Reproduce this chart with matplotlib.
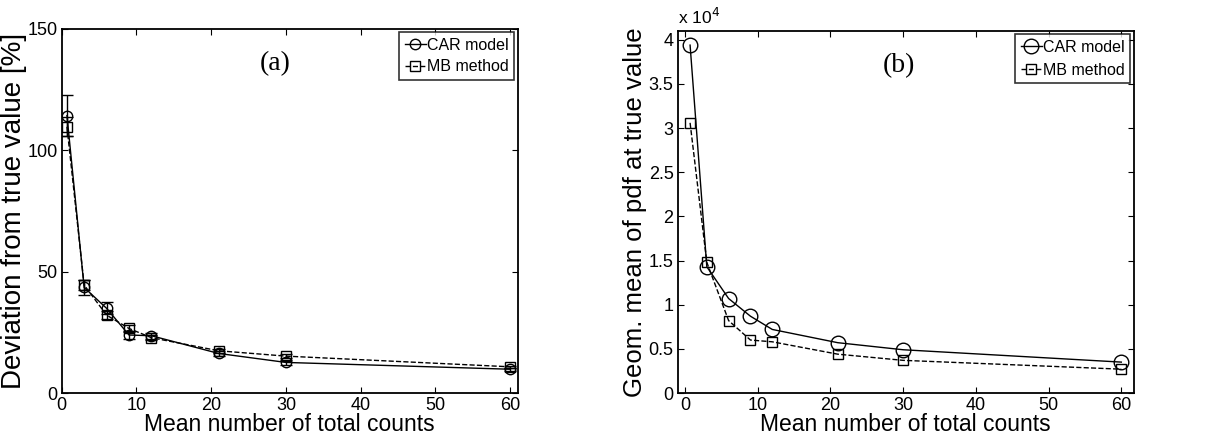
import numpy as np
import matplotlib
matplotlib.use("Agg")
from matplotlib import pyplot as plt

plt.rcParams["font.family"] = ["Liberation Sans", "DejaVu Sans"]

# mean number of total counts
counts = [0.7, 3, 6, 9, 12, 21, 30, 60]

# (a) deviation from true value [%]
dev_car = [114.3, 43.5, 34.9, 23.9, 23.6, 16.3, 12.6, 9.8]
dev_car_err = [8.3, 3.0, 2.5, 1.5, 1.2, 1.0, 0.9, 0.7]
dev_mb = [109.7, 44.5, 32.1, 26.6, 22.8, 17.4, 15.2, 10.8]
dev_mb_err = [4.0, 2.0, 1.8, 1.3, 1.0, 0.8, 0.7, 0.5]

# (b) geometric mean of pdf at true value
pdf_car = [39400, 14300, 10700, 8700, 7200, 5700, 4900, 3500]
pdf_mb = [30600, 14800, 8200, 6000, 5800, 4400, 3700, 2700]

serif = ["Liberation Serif", "DejaVu Serif"]


def style_axes(ax):
    ax.tick_params(direction="in", top=True, right=True, labelsize=13,
                   length=4, width=0.8, pad=3)
    for sp in ax.spines.values():
        sp.set_linewidth(1.3)
    ax.set_xlabel("Mean number of total counts", fontsize=16.5, labelpad=-1)


def add_legend(ax, handles, spacing):
    leg = ax.legend(handles, ["CAR model", "MB method"], loc="upper right",
                    fontsize=11.5, frameon=True, fancybox=False,
                    borderaxespad=0.2, handlelength=1.3, handletextpad=0.1,
                    borderpad=0.35, labelspacing=spacing)
    leg.get_frame().set_edgecolor("black")
    leg.get_frame().set_linewidth(1.2)


fig = plt.figure(figsize=(12.32, 4.46), dpi=100)
ax1 = fig.add_axes([0.0501, 0.1188, 0.3701, 0.8162])
ax2 = fig.add_axes([0.5501, 0.1188, 0.3701, 0.8117])

# panel (a)
eb1 = ax1.errorbar(counts, dev_car, yerr=dev_car_err, color="black", lw=1.0,
                   marker="o", ms=7.5, mfc="none", mew=1.0, capsize=4,
                   elinewidth=1.0)
eb2 = ax1.errorbar(counts, dev_mb, yerr=dev_mb_err, color="black", lw=1.0,
                   ls="--", marker="s", ms=6.5, mfc="none", mew=1.0,
                   capsize=4, elinewidth=1.0)
ax1.set_xlim(0, 61)
ax1.set_ylim(0, 150)
ax1.set_xticks(np.arange(0, 61, 10))
ax1.set_yticks([0, 50, 100, 150])
ax1.set_ylabel("Deviation from true value [%]", fontsize=20, labelpad=0)
ax1.text(0.468, 0.905, "(a)", transform=ax1.transAxes, ha="center",
         va="center", fontsize=20, family=serif)
style_axes(ax1)
add_legend(ax1, [eb1[0], eb2[0]], 0.4)

# panel (b)
l1, = ax2.plot(counts, np.array(pdf_car) / 1e4, color="black", lw=1.0,
               marker="o", ms=10.5, mfc="none", mew=1.0)
l2, = ax2.plot(counts, np.array(pdf_mb) / 1e4, color="black", lw=1.0,
               ls="--", marker="s", ms=7.5, mfc="none", mew=1.0)
ax2.set_xlim(-1, 61.7)
ax2.set_ylim(0, 4.1)
ax2.set_xticks(np.arange(0, 61, 10))
ax2.set_yticks(np.arange(0, 4.01, 0.5))
ax2.set_yticklabels(["0", "0.5", "1", "1.5", "2", "2.5", "3", "3.5", "4"])
ax2.set_ylabel("Geom. mean of pdf at true value", fontsize=18.5, labelpad=1)
ax2.text(0.486, 0.905, "(b)", transform=ax2.transAxes, ha="center",
         va="center", fontsize=20, family=serif)
ax2.text(0.0, 1.012, r"x 10$^{4}$", transform=ax2.transAxes, ha="left",
         va="bottom", fontsize=12.5)
style_axes(ax2)
add_legend(ax2, [l1, l2], 0.5)

fig.savefig("out.png", dpi=100)
